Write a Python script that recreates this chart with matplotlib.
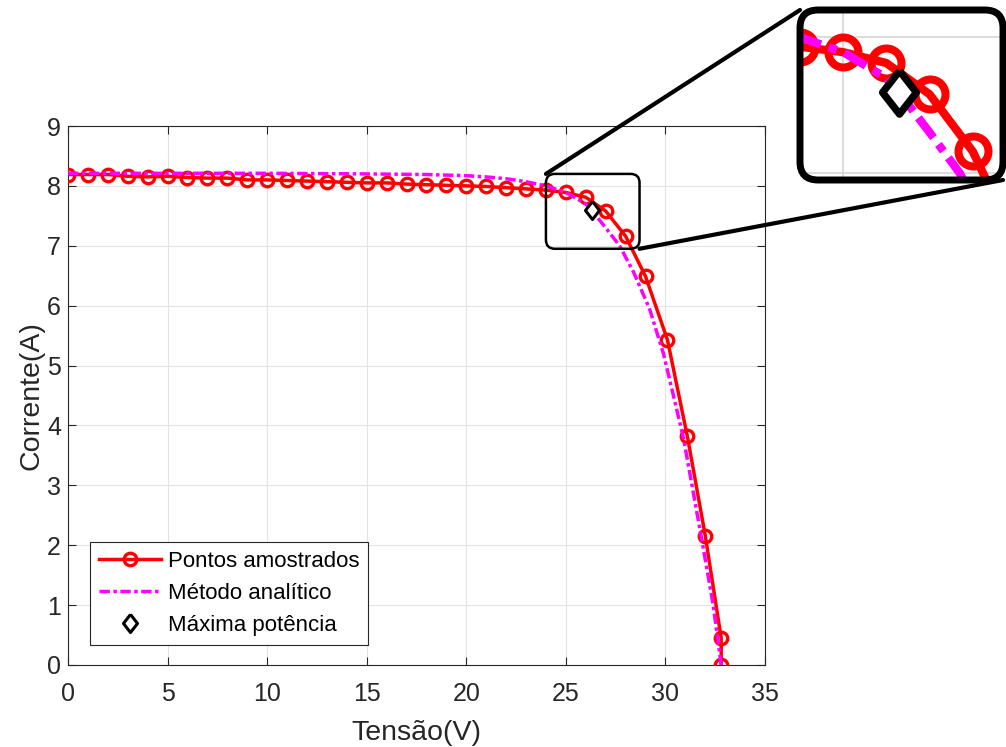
import matplotlib
matplotlib.use("Agg")
import matplotlib.pyplot as plt
from matplotlib.patches import FancyBboxPatch, ConnectionPatch
import numpy as np

plt.rcParams["font.family"] = ["Liberation Sans", "DejaVu Sans"]

# sampled I-V points
v_samples = [0, 1, 2, 3, 4, 5, 6, 7, 8, 9, 10, 11, 12, 13, 14, 15, 16, 17, 18,
             19, 20, 21, 22, 23, 24, 25, 26, 27, 28, 29, 30.1, 31.1, 32.0,
             32.8, 32.8]
i_samples = [8.19, 8.19, 8.19, 8.16, 8.15, 8.16, 8.14, 8.13, 8.13, 8.10, 8.10,
             8.09, 8.08, 8.07, 8.06, 8.05, 8.05, 8.03, 8.02, 8.01, 8.00, 7.99,
             7.97, 7.95, 7.93, 7.89, 7.81, 7.58, 7.16, 6.49, 5.43, 3.82, 2.16,
             0.45, 0.0]

# analytical model curve
v_model = [0, 5, 10, 15, 18, 20, 21, 22, 23, 24, 25, 26, 26.3, 27, 27.7, 28.4,
           29.2, 29.9, 30.9, 31.8, 32.4, 32.8]
i_model = [8.21, 8.21, 8.21, 8.20, 8.19, 8.17, 8.15, 8.12, 8.07, 8.00, 7.89,
           7.70, 7.59, 7.30, 7.00, 6.56, 5.95, 5.20, 3.80, 2.14, 1.00, 0.0]

# maximum power point
v_mpp = [26.3]
i_mpp = [7.60]

zoom_x = (24.0, 28.7)
zoom_y = (6.95, 8.2)

# slightly tall diamond
diamond = [(0, 1), (0.78, 0), (0, -1), (-0.78, 0), (0, 1)]

W, H = 1006, 747
fig = plt.figure(figsize=(W / 100, H / 100), dpi=100)
ax = fig.add_axes([68 / W, 1 - 665 / H, 697 / W, 539 / H])


def draw_curves(a, scale=1.0):
    a.plot(v_samples, i_samples, "-o", color="red", lw=2.5 * scale,
           ms=9 * scale, mfc="none", mew=2.4 * scale,
           label="Pontos amostrados", zorder=3)
    a.plot(v_model, i_model, color="magenta", lw=2.5 * scale,
           dashes=(3, 1, 1, 1), label="Método analítico", zorder=4)
    a.plot(v_mpp, i_mpp, marker=diamond, ls="none", color="black",
           ms=13 * scale, mfc="white", mew=2.2 * scale,
           label="Máxima potência", zorder=5)


draw_curves(ax)
ax.set_xlim(0, 35)
ax.set_ylim(0, 9)
ax.set_xticks(np.arange(0, 36, 5))
ax.set_yticks(np.arange(0, 10, 1))
ax.grid(True, color="#e3e3e3", lw=0.8)
ax.set_axisbelow(True)
ax.tick_params(direction="in", top=True, right=True, length=6, width=0.8,
               labelsize=18, colors="#262626", pad=5)
ax.tick_params(axis="x", pad=12)
for s in ax.spines.values():
    s.set_color("#262626")
    s.set_linewidth(0.8)
ax.set_xlabel("Tensão(V)", fontsize=20.5, color="#262626", labelpad=10)
ax.set_ylabel("Corrente(A)", fontsize=20.5, color="#262626", labelpad=2)

leg = ax.legend(loc="lower left", bbox_to_anchor=(22 / 697, 20 / 539),
                fontsize=16, handlelength=2.8, fancybox=False,
                framealpha=1, edgecolor="#262626", borderaxespad=0,
                labelspacing=0.5, handletextpad=0.3, borderpad=0.4)
leg.get_frame().set_linewidth(0.8)

# zoom box on the main axes
box = FancyBboxPatch((zoom_x[0], zoom_y[0]), zoom_x[1] - zoom_x[0],
                     zoom_y[1] - zoom_y[0],
                     boxstyle="round,pad=0,rounding_size=0.45",
                     mutation_aspect=19.91 / 59.9, fc="none", ec="black",
                     lw=1.8, zorder=6)
ax.add_patch(box)

# magnified inset
axin = fig.add_axes([800 / W, 1 - 180 / H, 203 / W, 170 / H])
draw_curves(axin, scale=2.4)
axin.set_xlim(*zoom_x)
axin.set_ylim(*zoom_y)
axin.set_xticks([25])
axin.set_yticks([7, 8])
axin.grid(True, color="#dcdcdc", lw=1.5)
axin.set_axisbelow(True)
axin.tick_params(length=0, labelbottom=False, labelleft=False)
for s in axin.spines.values():
    s.set_visible(False)

frame = FancyBboxPatch((800 / W, 1 - 180 / H), 203 / W, 170 / H,
                       boxstyle="round,pad=0,rounding_size=0.018",
                       mutation_aspect=W / H, transform=fig.transFigure,
                       fc="none", ec="black", lw=5, zorder=10)
fig.patches.append(frame)

for xy_main, xy_in in [((zoom_x[0], zoom_y[1]), (0, 1)),
                       ((zoom_x[1], zoom_y[0]), (1, 0))]:
    con = ConnectionPatch(xyA=xy_main, coordsA=ax.transData,
                          xyB=xy_in, coordsB=axin.transAxes,
                          color="black", lw=3, zorder=9)
    fig.add_artist(con)

fig.savefig("out.png", dpi=100)
